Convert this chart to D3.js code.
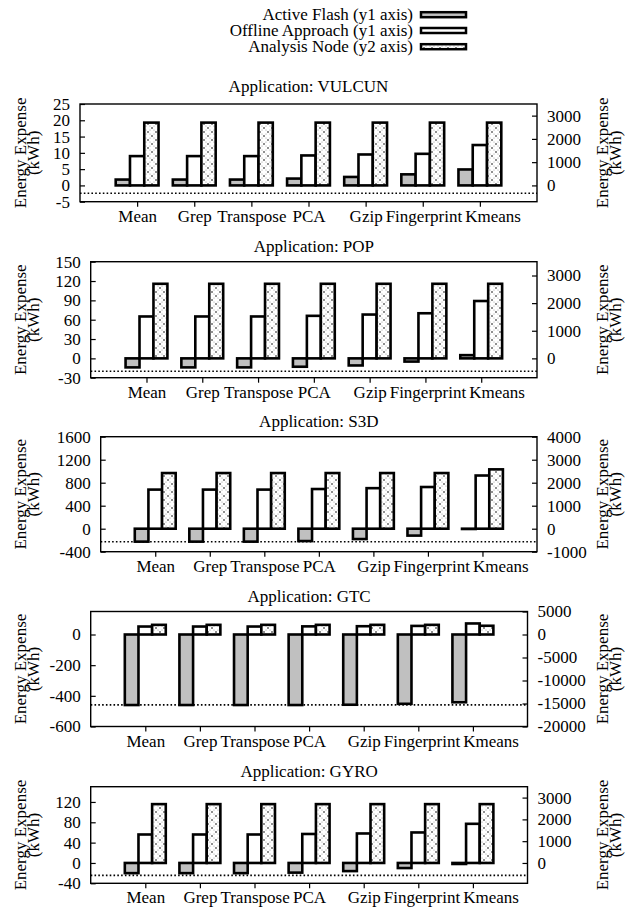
<!DOCTYPE html>
<html><head><meta charset="utf-8">
<script src="https://cdn.jsdelivr.net/npm/d3@7"></script>
<style>
body{margin:0;background:#fff}
svg{display:block}
text{font-family:"Liberation Serif","Times New Roman",serif;fill:#000}
</style>
</head><body>
<svg id="chart" width="629" height="907"></svg>
<script>
// ---------------- data ----------------
const categories = ["Mean","Grep","Transpose","PCA","Gzip","Fingerprint","Kmeans"];
const seriesNames = ["Active Flash (y1 axis)","Offline Approach (y1 axis)","Analysis Node (y2 axis)"];
const appNames = ["VULCUN","POP","S3D","GTC","GYRO"];

const vulcunActive  = [1.8, 1.8, 1.8, 2.1, 2.6, 3.4, 4.9];
const vulcunOffline = [9.0, 9.0, 9.0, 9.2, 9.5, 9.7, 12.4];
const vulcunNode    = [2700, 2700, 2700, 2700, 2700, 2700, 2700];

const popActive  = [-14, -14, -14, -13, -11, -5, 5];
const popOffline = [65, 65, 65, 66, 68, 70, 89];
const popNode    = [2700, 2700, 2700, 2700, 2700, 2700, 2700];

const s3dActive  = [-225, -225, -225, -215, -180, -120, -5];
const s3dOffline = [680, 680, 680, 690, 705, 725, 925];
const s3dNode    = [2420, 2420, 2420, 2420, 2420, 2420, 2580];

const gtcActive  = [-460, -460, -460, -460, -458, -452, -442];
const gtcOffline = [52, 52, 52, 53, 54, 56, 72];
const gtcNode    = [2100, 2100, 2100, 2100, 2100, 2100, 1900];

const gyroActive  = [-20, -20, -20, -19, -16, -10, -2];
const gyroOffline = [56, 56, 56, 57, 58, 60, 77];
const gyroNode    = [2700, 2700, 2700, 2700, 2700, 2700, 2700];

const activeSeries  = [vulcunActive, popActive, s3dActive, gtcActive, gyroActive];
const offlineSeries = [vulcunOffline, popOffline, s3dOffline, gtcOffline, gyroOffline];
const nodeSeries    = [vulcunNode, popNode, s3dNode, gtcNode, gyroNode];

const referenceLines = [-2.4, -20, -226, -459, -24.5];

const y1Domains = [[-5,25],[-30,150],[-400,1600],[-600,150],[-40,150]];
const y2Domains = [[-700,3500],[-700,3500],[-1000,4000],[-20000,5000],[-933.3,3500]];
const y1TickValues = [
  [-5,0,5,10,15,20,25],
  [-30,0,30,60,90,120,150],
  [-400,0,400,800,1200,1600],
  [-600,-400,-200,0],
  [-40,0,40,80,120]
];
const y2TickValues = [
  [0,1000,2000,3000],
  [0,1000,2000,3000],
  [-1000,0,1000,2000,3000,4000],
  [-20000,-15000,-10000,-5000,0,5000],
  [0,1000,2000,3000]
];
const yLabelLines = ["Energy Expense","(kWh)"];

// ---------------- layout ----------------
const panels = [
  {top:104,   bottom:201.7, left:80,   right:537,   titleY:92},
  {top:261.7, bottom:377.7, left:90.7, right:537,   titleY:252},
  {top:436.7, bottom:551.7, left:100.7,right:537,   titleY:427},
  {top:611.5, bottom:726.5, left:90.7, right:527.5, titleY:602},
  {top:786.7, bottom:883.3, left:90.7, right:527.5, titleY:777}
];
const FONT = 17;
const barW = 0.25;
const offsets = [-0.25, 0, 0.25];

const svg = d3.select("#chart");
const defs = svg.append("defs");
const pat = defs.append("pattern").attr("id","dots").attr("patternUnits","userSpaceOnUse")
  .attr("width",8).attr("height",8);
pat.append("rect").attr("width",8).attr("height",8).attr("fill","#fff");
[[0,0],[8,0],[0,8],[8,8],[4,4]].forEach(p=>pat.append("circle").attr("cx",p[0]).attr("cy",p[1]).attr("r",0.8).attr("fill","#000"));
[[2,2],[6,2],[2,6],[6,6]].forEach(p=>pat.append("circle").attr("cx",p[0]).attr("cy",p[1]).attr("r",0.6).attr("fill","#999"));

const fills = ["#c0c0c0","#ffffff","url(#dots)"];

// ---------------- legend ----------------
const legend = svg.append("g");
const legendRows = [14.7, 30.5, 46.7];
const legendText = legend.append("text").attr("text-anchor","end").attr("font-size",FONT);
seriesNames.forEach((name,k)=>{
  legendText.append("tspan").attr("x",413).attr("y",legendRows[k]+5.5).text(name);
  legend.append("rect").attr("x",421).attr("y",legendRows[k]-2.5)
    .attr("width",45).attr("height",5)
    .attr("fill",fills[k]).attr("stroke","#000").attr("stroke-width",2.5);
});

// ---------------- panels ----------------
panels.forEach((P,pi)=>{
  const g = svg.append("g");
  const x = d3.scaleLinear().domain([-1,7]).range([P.left,P.right]);
  const y1 = d3.scaleLinear().domain(y1Domains[pi]).range([P.bottom,P.top]);
  const y2 = d3.scaleLinear().domain(y2Domains[pi]).range([P.bottom,P.top]);

  g.append("text").attr("x",(P.left+P.right)/2).attr("y",P.titleY)
    .attr("text-anchor","middle").attr("font-size",FONT)
    .text("Application: " + appNames[pi]);

  const series = [activeSeries[pi], offlineSeries[pi], nodeSeries[pi]];
  const scales = [y1, y1, y2];
  series.forEach((vals,k)=>{
    const ys = scales[k];
    g.append("g").selectAll("rect").data(vals).join("rect")
      .attr("x",(d,i)=>x(i+offsets[k]-barW/2))
      .attr("width",(d,i)=>x(i+offsets[k]+barW/2)-x(i+offsets[k]-barW/2))
      .attr("y",d=>ys(Math.max(d,0)))
      .attr("height",d=>Math.abs(ys(d)-ys(0)))
      .attr("fill",fills[k]).attr("stroke","#000").attr("stroke-width",2.6);
  });

  g.append("line").attr("x1",P.left).attr("x2",P.right)
    .attr("y1",y1(referenceLines[pi])).attr("y2",y1(referenceLines[pi]))
    .attr("stroke","#000").attr("stroke-width",1.6).attr("stroke-dasharray","1.6,2.2");

  const ax = d3.axisBottom(x).tickValues(d3.range(categories.length))
    .tickFormat(i=>categories[i]).tickSize(5).tickPadding(3);
  const axG = g.append("g").attr("transform",`translate(0,${P.bottom})`).call(ax);
  const ayL = d3.axisLeft(y1).tickValues(y1TickValues[pi]).tickFormat(d3.format("d")).tickSize(-5).tickPadding(10);
  const ayLG = g.append("g").attr("transform",`translate(${P.left},0)`).call(ayL);
  const ayR = d3.axisRight(y2).tickValues(y2TickValues[pi]).tickFormat(d3.format("d")).tickSize(-5).tickPadding(10);
  const ayRG = g.append("g").attr("transform",`translate(${P.right},0)`).call(ayR);
  [axG,ayLG,ayRG].forEach(a=>{
    a.select(".domain").remove();
    a.selectAll("text").attr("font-size",FONT).attr("font-family","Liberation Serif, serif")
      .text(function(){return this.textContent.replace("\u2212","-");});
    a.selectAll("line").attr("stroke","#000").attr("stroke-width",1.2);
  });
  // x labels: push a label to the right when it would collide with its left neighbour
  const labels = axG.selectAll("text").nodes();
  const widths = labels.map(n=>n.getComputedTextLength());
  const centers = d3.range(labels.length).map(i=>x(i));
  for (let i=1;i<labels.length;i++){
    const need = centers[i-1] + widths[i-1]/2 + 3 + widths[i]/2;
    if (centers[i] < need) {
      labels[i].setAttribute("dx", need - x(i));
      centers[i] = need;
    }
  }

  g.append("rect").attr("x",P.left).attr("y",P.top)
    .attr("width",P.right-P.left).attr("height",P.bottom-P.top)
    .attr("fill","none").attr("stroke","#000").attr("stroke-width",1.4);

  const cy = (P.top+P.bottom)/2;
  [26,608].forEach(xl=>{
    const t = g.append("text").attr("transform",`translate(${xl},${cy}) rotate(-90)`)
      .attr("text-anchor","middle").attr("font-size",FONT);
    yLabelLines.forEach((line,j)=>{
      t.append("tspan").attr("x",0).attr("dy", j===0 ? 0 : 13).text(line);
    });
  });
});
</script>
</body></html>
